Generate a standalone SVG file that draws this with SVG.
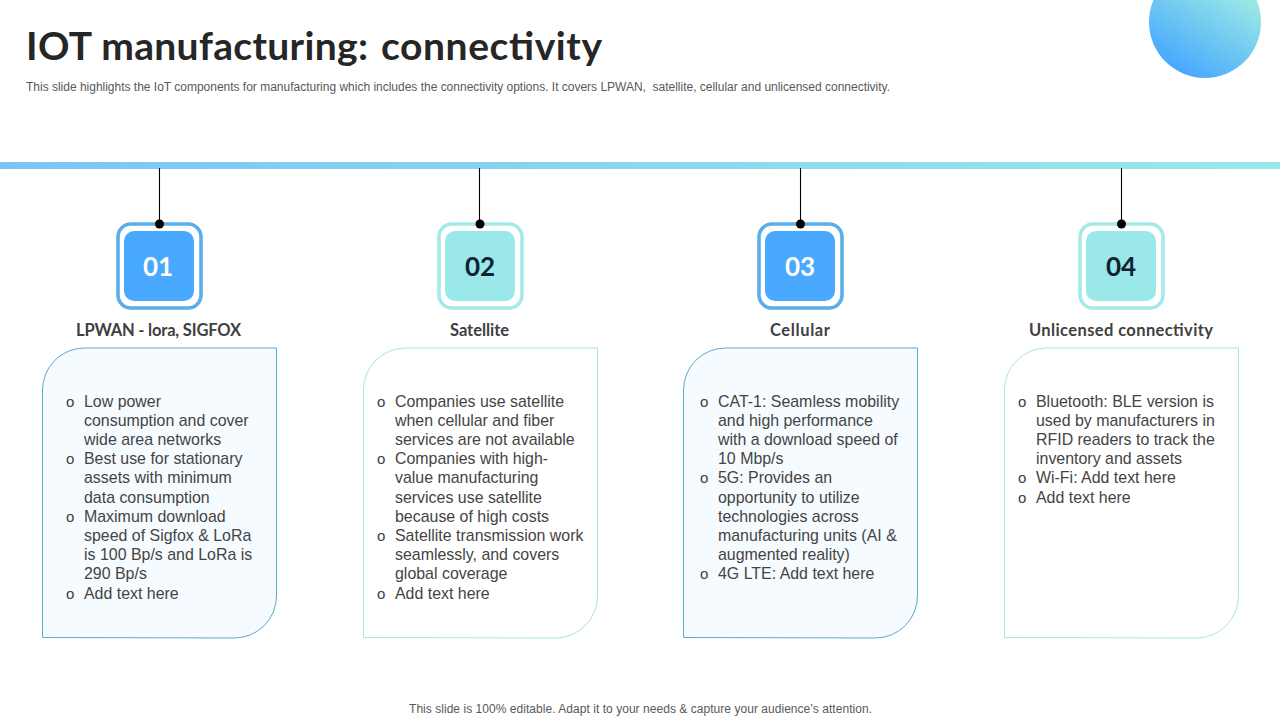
<svg xmlns="http://www.w3.org/2000/svg" width="1280" height="720" viewBox="0 0 1280 720">
<style>
.t{font-family:"Liberation Sans",Arial,sans-serif;font-size:15.93px;fill:#444}
.b{font-family:"Liberation Sans",Arial,sans-serif;font-size:15px;fill:#404040}
.h{font-family:Lato,"Liberation Sans",sans-serif;font-weight:700;font-size:16.5px;fill:#404040;text-anchor:middle}
.n{font-family:Lato,"Liberation Sans",sans-serif;font-weight:700;font-size:26px;text-anchor:middle}
.s{font-family:"Liberation Sans",Arial,sans-serif;font-size:12px;fill:#595959;white-space:pre}
.c{fill:none;stroke:#000;stroke-width:1.1}
.d{fill:#000}
.blue{fill:#48a9fe}.teal{fill:#9ae8e8}
.ob{fill:#fff;stroke:#5aaeea;stroke-width:3.6}
.ot{fill:#fff;stroke:#a5e9e9;stroke-width:3.6}
.pb{fill:#f5fbfe;stroke:#5aa9cf;stroke-width:1}
.pt{fill:#fff;stroke:#a9e3e8;stroke-width:1}
</style>
<defs>
<linearGradient id="bar" x1="0" y1="0" x2="1" y2="0"><stop offset="0" stop-color="#7cc4f8"/><stop offset="1" stop-color="#9ae8e8"/></linearGradient>
<linearGradient id="circ" x1="0.3" y1="0.95" x2="0.75" y2="0.25"><stop offset="0" stop-color="#48a9fe"/><stop offset="1" stop-color="#96e6e6"/></linearGradient>
</defs>
<rect width="1280" height="720" fill="#fff"/>
<circle cx="1205" cy="22" r="56" fill="url(#circ)"/>
<text y="60" font-family="Lato,'Liberation Sans',sans-serif" font-weight="700" font-size="39" fill="#262626"><tspan x="26" textLength="342" lengthAdjust="spacing">IOT manufacturing:</tspan> <tspan x="381" textLength="221" lengthAdjust="spacing">connectivity</tspan></text>
<text class="s" x="26" y="91" textLength="864" lengthAdjust="spacing">This slide highlights the IoT components for manufacturing which includes the connectivity options. It covers LPWAN,  satellite, cellular and unlicensed connectivity.</text>
<rect x="0" y="162" width="1280" height="7" fill="url(#bar)"/>
<g id="connectors">
<line class="c" x1="159.500" y1="168" x2="159.500" y2="224"/>
<line class="c" x1="479.500" y1="168" x2="479.500" y2="224"/>
<line class="c" x1="800.500" y1="168" x2="800.500" y2="224"/>
<line class="c" x1="1121.500" y1="168" x2="1121.500" y2="224"/>
</g>
<g id="node1">
<rect class="ob" x="118" y="224" width="83" height="84" rx="13"/><rect class="blue" x="124" y="231" width="70" height="70" rx="10"/>
<circle class="d" cx="159.500" cy="224" r="4.500"/>
<text class="n" x="158" y="276" fill="#fff">01</text>
<text class="h" x="158.500" y="336" textLength="165">LPWAN - lora, SIGFOX</text>
<path class="pb" d="M42.500 637.500V390a42 42 0 0 1 42-42H276.500V596a42 42 0 0 1-42 42Z"/>
<g class="b"><text x="66" y="407">o</text><text x="66" y="464">o</text><text x="66" y="522">o</text><text x="66" y="599">o</text></g>
<g class="t"><text x="84" y="407">Low power</text><text x="84" y="426">consumption and cover</text><text x="84" y="445">wide area networks</text><text x="84" y="464">Best use for stationary</text><text x="84" y="483">assets with minimum</text><text x="84" y="503">data consumption</text><text x="84" y="522">Maximum download</text><text x="84" y="541">speed of Sigfox &amp; LoRa</text><text x="84" y="560">is 100 Bp/s and LoRa is</text><text x="84" y="579">290 Bp/s</text><text x="84" y="599">Add text here</text></g>
</g>
<g id="node2">
<rect class="ot" x="439" y="224" width="83" height="84" rx="13"/><rect class="teal" x="445" y="231" width="70" height="70" rx="10"/>
<circle class="d" cx="480" cy="224" r="4.500"/>
<text class="n" x="480" y="276" fill="#0f2233">02</text>
<text class="h" x="479.500" y="336" textLength="59">Satellite</text>
<path class="pt" d="M363.500 637.500V390a42 42 0 0 1 42-42H597.500V596a42 42 0 0 1-42 42Z"/>
<g class="b"><text x="377" y="407">o</text><text x="377" y="464">o</text><text x="377" y="541">o</text><text x="377" y="599">o</text></g>
<g class="t"><text x="395" y="407">Companies use satellite</text><text x="395" y="426">when cellular and fiber</text><text x="395" y="445">services are not available</text><text x="395" y="464">Companies with high-</text><text x="395" y="483">value manufacturing</text><text x="395" y="503">services use satellite</text><text x="395" y="522">because of high costs</text><text x="395" y="541">Satellite transmission work</text><text x="395" y="560">seamlessly, and covers</text><text x="395" y="579">global coverage</text><text x="395" y="599">Add text here</text></g>
</g>
<g id="node3">
<rect class="ob" x="759" y="224" width="83" height="84" rx="13"/><rect class="blue" x="765" y="231" width="70" height="70" rx="10"/>
<circle class="d" cx="800.500" cy="224" r="4.500"/>
<text class="n" x="800" y="276" fill="#fff">03</text>
<text class="h" x="800" y="336" textLength="60">Cellular</text>
<path class="pb" d="M683.500 637.500V390a42 42 0 0 1 42-42H917.500V596a42 42 0 0 1-42 42Z"/>
<g class="b"><text x="700" y="407">o</text><text x="700" y="483">o</text><text x="700" y="579">o</text></g>
<g class="t"><text x="718" y="407">CAT-1: Seamless mobility</text><text x="718" y="426">and high performance</text><text x="718" y="445">with a download speed of</text><text x="718" y="464">10 Mbp/s</text><text x="718" y="483">5G: Provides an</text><text x="718" y="503">opportunity to utilize</text><text x="718" y="522">technologies across</text><text x="718" y="541">manufacturing units (AI &amp;</text><text x="718" y="560">augmented reality)</text><text x="718" y="579">4G LTE: Add text here</text></g>
</g>
<g id="node4">
<rect class="ot" x="1080" y="224" width="83" height="84" rx="13"/><rect class="teal" x="1086" y="231" width="70" height="70" rx="10"/>
<circle class="d" cx="1121.500" cy="224" r="4.500"/>
<text class="n" x="1121" y="276" fill="#0f2233">04</text>
<text class="h" x="1121" y="336" textLength="184">Unlicensed connectivity</text>
<path class="pt" d="M1004.500 637.500V390a42 42 0 0 1 42-42H1238.500V596a42 42 0 0 1-42 42Z"/>
<g class="b"><text x="1018" y="407">o</text><text x="1018" y="483">o</text><text x="1018" y="503">o</text></g>
<g class="t"><text x="1036" y="407">Bluetooth: BLE version is</text><text x="1036" y="426">used by manufacturers in</text><text x="1036" y="445">RFID readers to track the</text><text x="1036" y="464">inventory and assets</text><text x="1036" y="483">Wi-Fi: Add text here</text><text x="1036" y="503">Add text here</text></g>
</g>
<text class="s" x="409" y="713" textLength="463" lengthAdjust="spacing">This slide is 100% editable. Adapt it to your needs &amp; capture your audience’s attention.</text>
</svg>
